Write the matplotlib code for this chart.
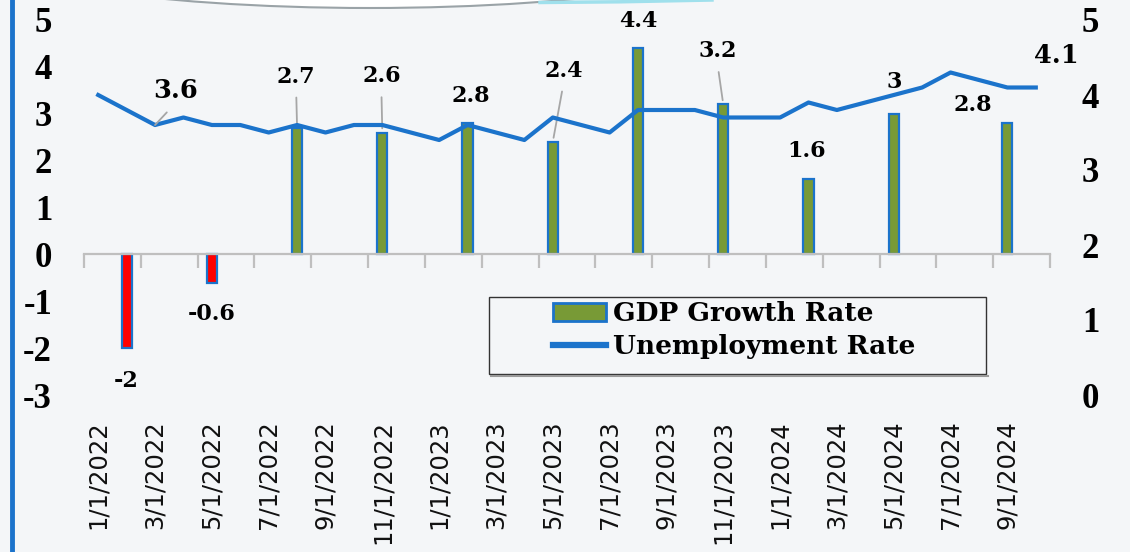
import matplotlib
matplotlib.use("Agg")
import matplotlib.pyplot as plt
from matplotlib.lines import Line2D
from matplotlib.patches import Patch, Rectangle, Ellipse
import numpy as np
import pandas as pd

# monthly unemployment rate (right axis)
months = pd.date_range("2022-01-01", "2024-10-01", freq="MS")
unemployment = [4.0, 3.8, 3.6, 3.7, 3.6, 3.6, 3.5, 3.6, 3.5, 3.6, 3.6, 3.5,
                3.4, 3.6, 3.5, 3.4, 3.7, 3.6, 3.5, 3.8, 3.8, 3.8, 3.7, 3.7,
                3.7, 3.9, 3.8, 3.9, 4.0, 4.1, 4.3, 4.2, 4.1, 4.1]

# quarterly GDP growth (left axis)
gdp_dates = ["2/1/2022", "5/1/2022", "8/1/2022", "11/1/2022", "2/1/2023", "5/1/2023",
             "8/1/2023", "11/1/2023", "2/1/2024", "5/1/2024", "9/1/2024"]
gdp_growth = [-2, -0.6, 2.7, 2.6, 2.8, 2.4, 4.4, 3.2, 1.6, 3, 2.8]

left_ticks = list(range(-3, 6))
right_ticks = list(range(0, 6))

# label placement (pixel offsets from the bar end) and leader-line flags
bar_label_offsets = [(0, -33), (0, -32), (-1, 51), (-1, 56), (3, 27), (11, 71),
                     (0, 27), (-6, 53), (-2, 28), (0, 32), (-35, 18)]
bar_label_leaders = [False, False, True, True, False, True, False, True, False, False, False]
line_labels = [(2, (21, 35), True), (33, (21, 32), False)]

GREEN = "#789a36"
RED = "#ff0000"
BLUE = "#1b73cb"
GRAY = "#a6a6a6"
BG = "#f4f6f8"
SERIF = "Liberation Serif"
LABEL_FONT = "DejaVu Serif"

W, H = 1130, 552
fig = plt.figure(figsize=(W / 100, H / 100), dpi=100)
fig.patch.set_facecolor(BG)


def fx(px):
    return px / W


def fy(py):
    return 1 - py / H


ax = fig.add_axes([fx(84), fy(395), fx(1050) - fx(84), fy(20) - fy(395)])
ax.set_facecolor("none")
ax2 = ax.twinx()

n = len(months)
x = np.arange(n)
gdp_idx = months.get_indexer(pd.to_datetime(gdp_dates, format="%m/%d/%Y"))
colors = [GREEN if v > 0 else RED for v in gdp_growth]
ax.bar(gdp_idx, gdp_growth, width=0.36, color=colors, edgecolor=BLUE, linewidth=1.6, zorder=2)
ax2.plot(x, unemployment, color=BLUE, lw=3, zorder=3)

ax.set_xlim(-0.5, n - 0.5)
ax.set_ylim(-3, 5)
ax2.set_ylim(0, 5)

# axes styling
for s in ["left", "right", "top"]:
    ax.spines[s].set_visible(False)
for s in ax2.spines.values():
    s.set_visible(False)
ax.spines["bottom"].set_position(("data", 0))
ax.spines["bottom"].set_color("#bfbfbf")
ax.spines["bottom"].set_linewidth(1.6)
ax.set_xticks(np.arange(-0.5, n, 2))
ax.tick_params(axis="x", length=10, width=1.6, color="#bfbfbf", labelbottom=False)

ax.set_yticks(left_ticks, [str(t) for t in left_ticks], fontsize=25,
              fontweight="bold", fontfamily=SERIF)
ax.tick_params(axis="y", length=0, pad=23)
ax2.set_yticks(right_ticks, [str(t) for t in right_ticks], fontsize=25,
               fontweight="bold", fontfamily=SERIF)
ax2.tick_params(axis="y", length=0, pad=23)

# date labels sit at the bottom of the chart, not on the zero line
for i in range(0, n, 2):
    d = months[i]
    ax.text(i, -25 / 375, f"{d.month}/{d.day}/{d.year}", transform=ax.get_xaxis_transform(),
            rotation=90, ha="center", va="top", fontsize=17.5, family="DejaVu Sans",
            color="#111111")

# data labels
for xi, v, (dx, dy), lead in zip(gdp_idx, gdp_growth, bar_label_offsets, bar_label_leaders):
    arrow = None
    if lead:
        arrow = dict(arrowstyle="-", color=GRAY, lw=1.3, relpos=(0.5, 0), shrinkA=5, shrinkB=3)
    ax.annotate(f"{v:g}", (xi, v), xytext=(dx * 0.72, dy * 0.72), textcoords="offset points",
                ha="center", va="center", fontsize=16, fontweight="bold", family=LABEL_FONT,
                arrowprops=arrow, zorder=4)

for xi, (dx, dy), lead in line_labels:
    arrow = None
    if lead:
        arrow = dict(arrowstyle="-", color=GRAY, lw=1.3, relpos=(0.5, 0), shrinkA=7, shrinkB=0)
    ax2.annotate(f"{unemployment[xi]:g}", (xi, unemployment[xi]), xytext=(dx * 0.72, dy * 0.72),
                 textcoords="offset points", ha="center", va="center", fontsize=18.5,
                 fontweight="bold", family=LABEL_FONT, arrowprops=arrow, zorder=4)

# legend with a wide frame drawn separately
handles = [Patch(facecolor=GREEN, edgecolor=BLUE, linewidth=2),
           Line2D([], [], color=BLUE, lw=4.5)]
fig.legend(handles, ["GDP Growth Rate", "Unemployment Rate"], loc="upper left",
           bbox_to_anchor=(fx(553), fy(301)), frameon=False, borderpad=0, borderaxespad=0,
           handlelength=2.0, handletextpad=0.28, labelspacing=0.3,
           prop=dict(family="DejaVu Serif", weight="bold", size=19))
fig.add_artist(Line2D([fx(491), fx(988)], [fy(376), fy(376)], transform=fig.transFigure,
                      color="#9a9a9a", lw=1.5))
fig.add_artist(Rectangle((fx(489), fy(374)), fx(986) - fx(489), fy(297) - fy(374),
                         transform=fig.transFigure, facecolor=BG, edgecolor="#333333", lw=1,
                         zorder=-1))

# slide decorations: left blue rule and arc at the top
fig.add_artist(Line2D([fx(12), fx(12)], [0, 1], transform=fig.transFigure, color=BLUE, lw=3.5))
fig.add_artist(Ellipse((fx(370), fy(-60)), fx(824), 136 / H, transform=fig.transFigure,
                       facecolor="white", edgecolor="#9aa3a7", lw=1.5))
fig.add_artist(Line2D([fx(540), fx(620), fx(712)], [fy(2.5), fy(1.8), fy(0)],
                      transform=fig.transFigure, color="#9fe0ec", lw=2.5))

fig.savefig("out.png", dpi=100, facecolor=BG)
